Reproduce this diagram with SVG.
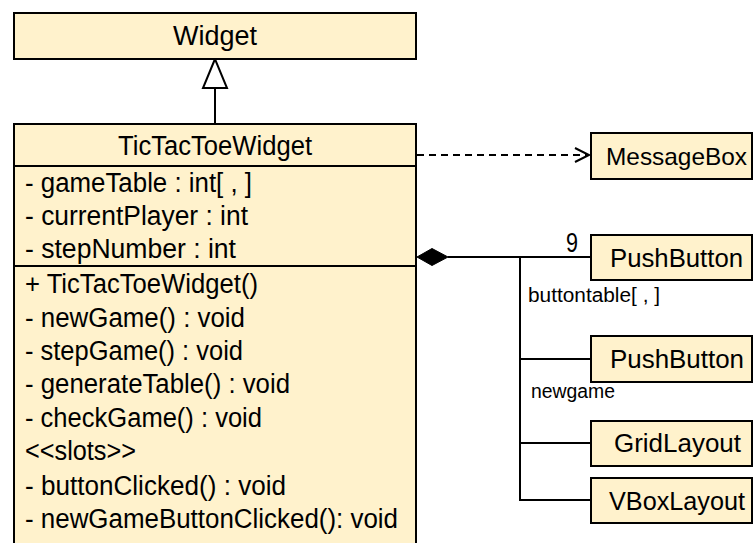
<svg xmlns="http://www.w3.org/2000/svg" width="755" height="543" viewBox="0 0 755 543">
<style>
.box{fill:#FFF2CC;stroke:#000;stroke-width:2}
.ln{stroke:#000;stroke-width:2;fill:none}
text{font-family:"Liberation Sans",Arial,sans-serif;font-size:27px;fill:#000}
.sm{font-size:20px}
.bx{font-size:25px}
</style>
<rect width="755" height="543" fill="#fff"/>
<g id="connectors">
<polyline class="ln" points="215,88 215,124"/>
<polygon points="215,59 203,88 227,88" fill="#fff" stroke="#000" stroke-width="2"/>
<line class="ln" x1="417" y1="155" x2="588" y2="155" stroke-dasharray="7 5"/>
<polyline class="ln" points="575,148 589,155 575,162"/>
<line class="ln" x1="448" y1="257" x2="591" y2="257"/>
<polygon points="417,257 432,248.5 448,257 432,265.5" fill="#000" stroke="#000" stroke-width="1"/>
<polyline class="ln" points="520,257 520,500 591,500"/>
<line class="ln" x1="520" y1="359" x2="591" y2="359"/>
<line class="ln" x1="520" y1="443" x2="591" y2="443"/>
<text x="566" y="252" textLength="12" lengthAdjust="spacingAndGlyphs">9</text>
<text class="sm" x="528" y="302" textLength="132" lengthAdjust="spacingAndGlyphs">buttontable[ , ]</text>
<text class="sm" x="531" y="398" textLength="84" lengthAdjust="spacingAndGlyphs">newgame</text>
</g>
<g id="Widget">
<rect class="box" x="14" y="13" width="402" height="46"/>
<text x="173" y="45" textLength="84" lengthAdjust="spacingAndGlyphs">Widget</text>
</g>
<g id="TicTacToeWidget">
<rect class="box" x="14" y="124" width="402" height="430"/>
<line class="ln" x1="14" y1="166" x2="416" y2="166"/>
<line class="ln" x1="14" y1="266" x2="416" y2="266"/>
<text x="118" y="155" textLength="194" lengthAdjust="spacingAndGlyphs">TicTacToeWidget</text>
<text x="25" y="192" textLength="227" lengthAdjust="spacingAndGlyphs">- gameTable : int[ , ]</text>
<text x="25" y="225" textLength="223" lengthAdjust="spacingAndGlyphs">- currentPlayer : int</text>
<text x="25" y="258" textLength="211" lengthAdjust="spacingAndGlyphs">- stepNumber : int</text>
<text x="25" y="293" textLength="233" lengthAdjust="spacingAndGlyphs">+ TicTacToeWidget()</text>
<text x="25" y="327" textLength="220" lengthAdjust="spacingAndGlyphs">- newGame() : void</text>
<text x="25" y="360" textLength="218" lengthAdjust="spacingAndGlyphs">- stepGame() : void</text>
<text x="25" y="393" textLength="265" lengthAdjust="spacingAndGlyphs">- generateTable() : void</text>
<text x="25" y="427" textLength="237" lengthAdjust="spacingAndGlyphs">- checkGame() : void</text>
<text x="25" y="460" textLength="111" lengthAdjust="spacingAndGlyphs">&lt;&lt;slots&gt;&gt;</text>
<text x="25" y="495" textLength="261" lengthAdjust="spacingAndGlyphs">- buttonClicked() : void</text>
<text x="25" y="528" textLength="373" lengthAdjust="spacingAndGlyphs">- newGameButtonClicked(): void</text>
</g>
<g id="MessageBox">
<rect class="box" x="591" y="133" width="161" height="46"/>
<text class="bx" x="606" y="165" textLength="141" lengthAdjust="spacingAndGlyphs" style="font-size:24px">MessageBox</text>
</g>
<g id="PushButton1">
<rect class="box" x="591" y="235" width="161" height="45"/>
<text class="bx" x="610" y="267" textLength="133" lengthAdjust="spacingAndGlyphs">PushButton</text>
</g>
<g id="PushButton2">
<rect class="box" x="591" y="336" width="161" height="46"/>
<text class="bx" x="610" y="368" textLength="134" lengthAdjust="spacingAndGlyphs">PushButton</text>
</g>
<g id="GridLayout">
<rect class="box" x="591" y="421" width="161" height="45"/>
<text class="bx" x="614" y="452" textLength="127" lengthAdjust="spacingAndGlyphs">GridLayout</text>
</g>
<g id="VBoxLayout">
<rect class="box" x="591" y="478" width="161" height="45"/>
<text class="bx" x="609" y="510" textLength="136" lengthAdjust="spacingAndGlyphs">VBoxLayout</text>
</g>
</svg>
